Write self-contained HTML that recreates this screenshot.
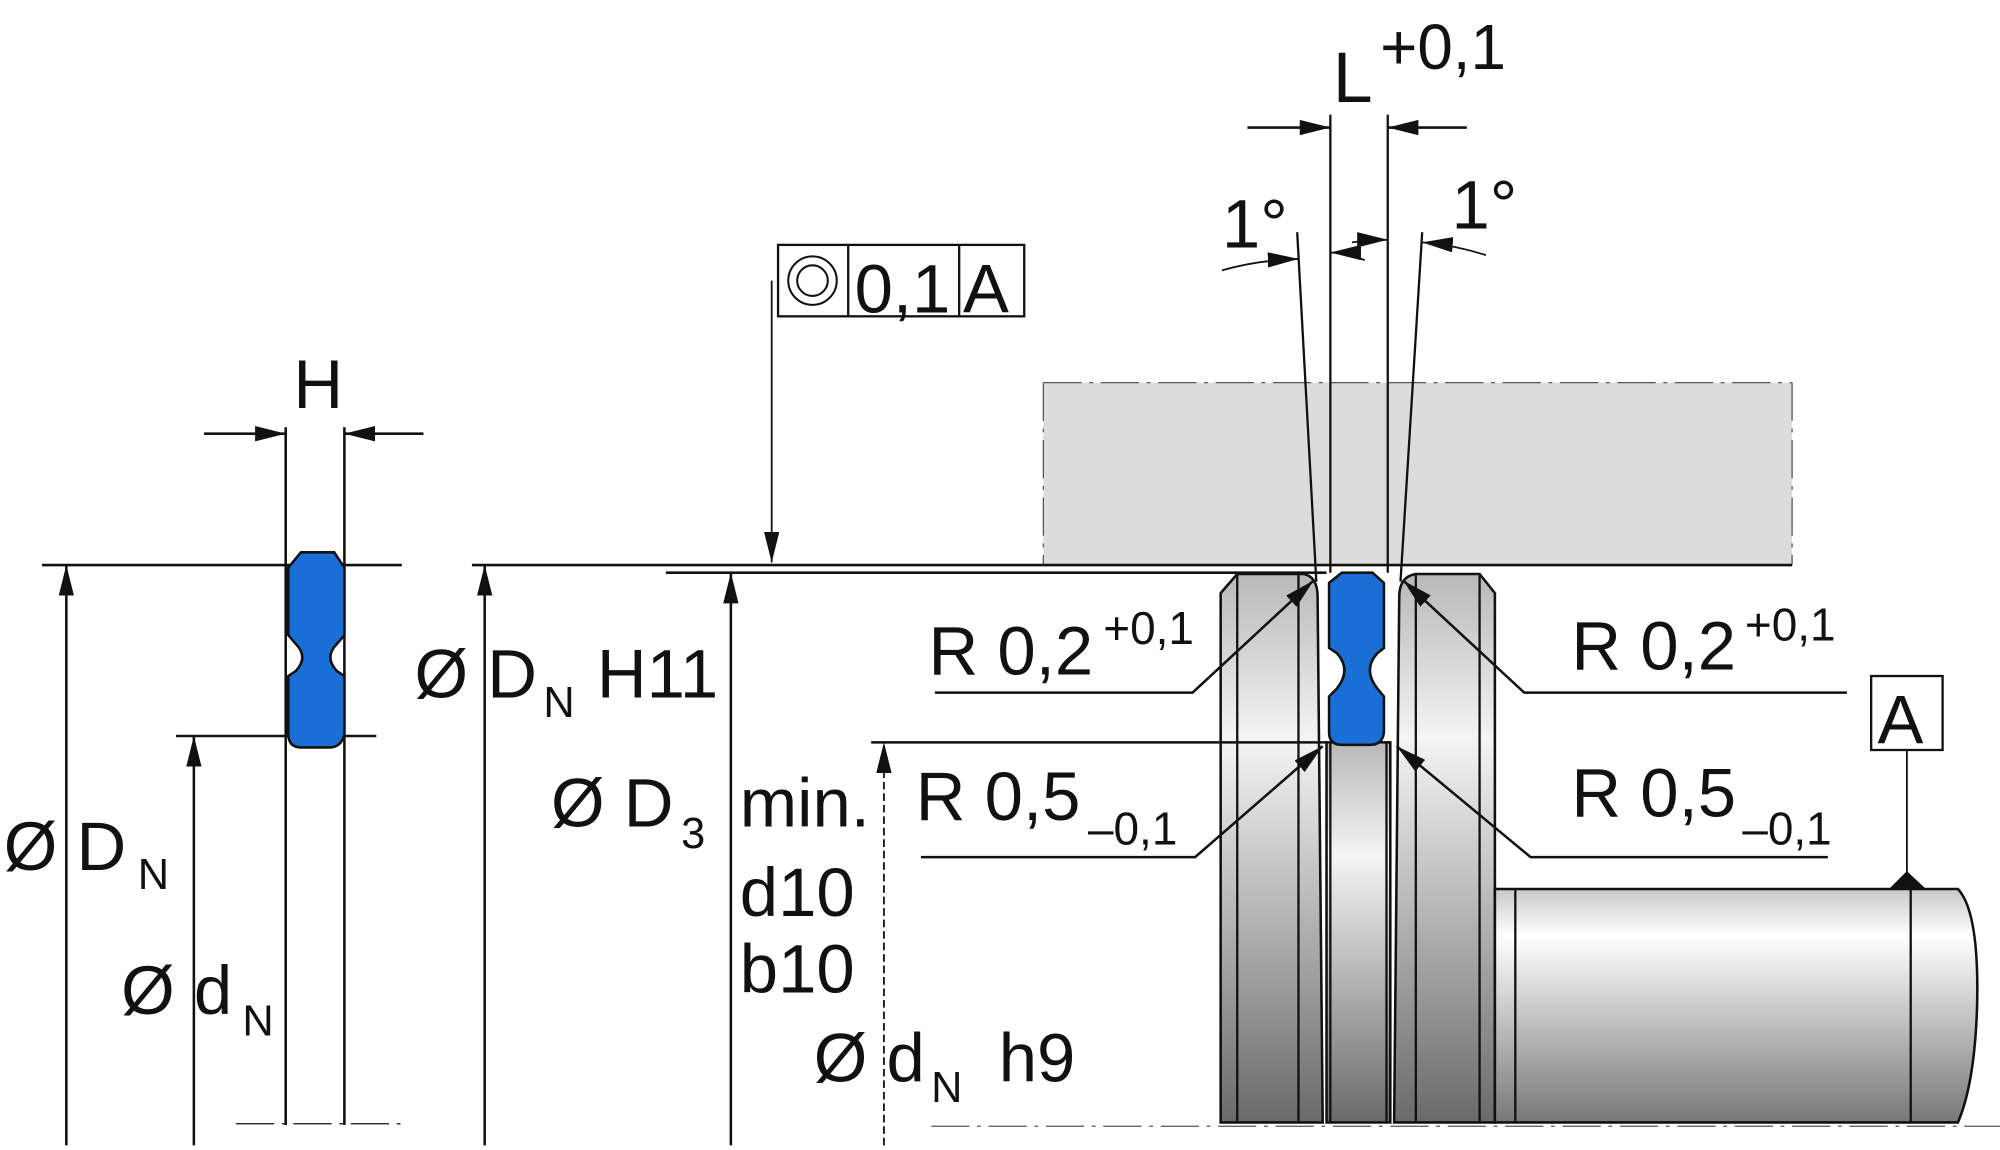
<!DOCTYPE html>
<html><head><meta charset="utf-8"><style>
html,body{margin:0;padding:0;background:#fff;width:2000px;height:1150px;overflow:hidden}
svg{display:block}
text{font-family:"Liberation Sans",Arial,sans-serif;fill:#111}
</style></head><body>
<svg width="2000" height="1150" viewBox="0 0 1568 901.6" preserveAspectRatio="none" xmlns="http://www.w3.org/2000/svg">
<defs>
<linearGradient id="g" x1="0" y1="0" x2="0" y2="1">
<stop offset="0" stop-color="#b8b8b8"/><stop offset="0.3" stop-color="#f4f4f4"/><stop offset="1" stop-color="#6a6a6a"/></linearGradient>
<linearGradient id="g2" x1="0" y1="0" x2="0" y2="1">
<stop offset="0" stop-color="#c8c8c8"/><stop offset="0.2" stop-color="#ffffff"/><stop offset="1" stop-color="#777"/></linearGradient>
<marker id="b" markerWidth="24" markerHeight="12" refX="24" refY="6" orient="auto" markerUnits="userSpaceOnUse"><path d="M0,0 L24,6 L0,12 Z" fill="#111"/></marker>
</defs>
<g stroke="#111" stroke-width="2" fill="none">
<line x1="224" y1="335" x2="224" y2="882"/><line x1="270" y1="335" x2="270" y2="882"/>
<line x1="160" y1="340" x2="224" y2="340" marker-end="url(#b)"/>
<line x1="332" y1="340" x2="270" y2="340" marker-end="url(#b)"/>
<line x1="33" y1="443" x2="315" y2="443"/>
<line x1="138" y1="577" x2="295" y2="577"/>
<line x1="52" y1="898" x2="52" y2="443" marker-end="url(#b)"/>
<line x1="152" y1="898" x2="152" y2="577" marker-end="url(#b)"/>
<line x1="185" y1="881" x2="320" y2="881" stroke-dasharray="30,6,3,6" stroke-width="1"/>
</g>
<path d="M236,433 L262,433 L270,445 L270,498 L264,505 Q254,515 264,526 L270,530 L270,575 Q268,586 258,586 L236,586 Q226,586 226,575 L226,530 L232,526 Q242,515 232,505 L226,498 L226,445 Z" fill="#1a6fd6" stroke="#111" stroke-width="2"/>
<g font-size="54">
<text x="230" y="320">H</text>
<text x="3" y="682">Ø D</text><text x="108" y="697" font-size="34">N</text>
<text x="95" y="795">Ø d</text><text x="190" y="812" font-size="34">N</text>
<text x="325" y="547">Ø D</text><text x="426" y="562" font-size="34">N</text><text x="468" y="547">H11</text>
<text x="432" y="648">Ø D</text><text x="534" y="665" font-size="34">3</text><text x="580" y="648">min.</text>
<text x="580" y="718">d10</text>
<text x="580" y="778">b10</text>
<text x="638" y="848">Ø d</text><text x="730" y="864" font-size="34">N</text><text x="783" y="848">h9</text>
<text x="728" y="529">R 0,2</text><text x="865" y="505" font-size="36">+0,1</text>
<text x="1232" y="525">R 0,2</text><text x="1368" y="502" font-size="36">+0,1</text>
<text x="718" y="643">R 0,5</text><text x="853" y="662" font-size="36">–0,1</text>
<text x="1232" y="640">R 0,5</text><text x="1366" y="662" font-size="36">–0,1</text>
<text x="1045" y="80" font-size="56">L</text><text x="1082" y="54" font-size="50">+0,1</text>
<text x="958" y="194">1°</text>
<text x="1138" y="179">1°</text>
<text x="670" y="245">0,1</text>
<text x="755" y="245">A</text>
<text x="1472" y="583">A</text>
</g>

<rect x="818" y="300" width="587" height="143" fill="#dcdcdc"/>
<g stroke="#555" stroke-width="1" stroke-dasharray="30,6,3,6" fill="none">
<line x1="818" y1="300" x2="1405" y2="300"/><line x1="1405" y1="300" x2="1405" y2="443"/><line x1="818" y1="300" x2="818" y2="443"/>
</g>
<path d="M957,465 L970,450 L1022,450 Q1033,452 1033,468 L1037,880 L957,880 Z" fill="url(#g)" stroke="#111" stroke-width="2"/>
<path d="M1172,465 L1160,450 L1110,450 Q1097,452 1097,468 L1093,880 L1172,880 Z" fill="url(#g)" stroke="#111" stroke-width="2"/>
<rect x="1040" y="582" width="50" height="298" fill="url(#g)" stroke="#111" stroke-width="2"/>
<g stroke="#111" stroke-width="1.8">
<line x1="970" y1="450" x2="970" y2="880"/><line x1="1018" y1="450" x2="1018" y2="880"/>
<line x1="1160" y1="450" x2="1160" y2="880"/><line x1="1110" y1="450" x2="1110" y2="880"/>
<line x1="1043" y1="582" x2="1043" y2="880"/><line x1="1087" y1="582" x2="1087" y2="880"/>
</g>
<path d="M1172,697 L1535,697 Q1552,715 1550,790 Q1548,850 1535,880 L1172,880 Z" fill="url(#g2)" stroke="#111" stroke-width="2"/>
<line x1="1188" y1="697" x2="1188" y2="880" stroke="#111" stroke-width="1.8"/>
<line x1="1498" y1="697" x2="1498" y2="880" stroke="#111" stroke-width="1.8"/>
<line x1="730" y1="883" x2="1568" y2="883" stroke="#555" stroke-width="1" stroke-dasharray="30,6,3,6"/>
<path d="M1052,449 L1076,449 L1085,457 L1085,508 L1080,512 Q1068,525 1080,540 L1085,546 L1085,574 Q1084,584 1074,584 L1052,584 Q1042,584 1042,574 L1042,546 L1048,540 Q1060,525 1048,512 L1042,508 L1042,457 Z" fill="#1a6fd6" stroke="#111" stroke-width="2"/>
<g stroke="#111" stroke-width="2" fill="none">
<line x1="370" y1="443" x2="1405" y2="443"/>
<line x1="522" y1="449" x2="1040" y2="449"/>
<line x1="683" y1="582" x2="1040" y2="582"/>
<line x1="380" y1="898" x2="380" y2="443" marker-end="url(#b)"/>
<line x1="573" y1="898" x2="573" y2="449" marker-end="url(#b)"/>
<line x1="693" y1="898" x2="693" y2="582" stroke-dasharray="6,3" stroke-width="1.4" marker-end="url(#b)"/>
<rect x="610" y="192" width="193" height="56" stroke-width="1.8"/>
<line x1="665" y1="192" x2="665" y2="248" stroke-width="1.8"/><line x1="752" y1="192" x2="752" y2="248" stroke-width="1.8"/>
<circle cx="637" cy="220" r="19" stroke-width="1.6"/><circle cx="637" cy="220" r="12" stroke-width="1.6"/>
<line x1="605" y1="220" x2="605" y2="441" stroke-width="1.4" marker-end="url(#b)"/>
<line x1="1043" y1="90" x2="1043" y2="449" stroke-width="1.8"/><line x1="1088" y1="90" x2="1088" y2="449" stroke-width="1.8"/>
<line x1="978" y1="100" x2="1043" y2="100" marker-end="url(#b)"/>
<line x1="1150" y1="100" x2="1088" y2="100" marker-end="url(#b)"/>
<line x1="1017" y1="182" x2="1032" y2="456" stroke-width="1.8"/>
<line x1="1115" y1="182" x2="1098" y2="456" stroke-width="1.8"/>
<path d="M958,212 Q985,204 1018,203" stroke-width="1.4" marker-end="url(#b)"/>
<path d="M1070,204 Q1055,198 1043,198" stroke-width="1.4" marker-end="url(#b)"/>
<path d="M1165,200 Q1140,192 1115,190" stroke-width="1.4" marker-end="url(#b)"/>
<path d="M1060,190 Q1075,188 1088,188" stroke-width="1.4" marker-end="url(#b)"/>
<path d="M733,543 L935,543 L1030,455" marker-end="url(#b)"/>
<path d="M1448,543 L1195,543 L1100,455" marker-end="url(#b)"/>
<path d="M722,672 L937,672 L1037,585" marker-end="url(#b)"/>
<path d="M1433,672 L1200,672 L1095,585" marker-end="url(#b)"/>
<rect x="1467" y="530" width="56" height="58" stroke-width="1.8"/>
<line x1="1495" y1="588" x2="1495" y2="686" stroke-width="1.4"/>
</g>
<path d="M1481,697 L1495,683 L1510,697 Z" fill="#111"/>
</svg>
</body></html>
